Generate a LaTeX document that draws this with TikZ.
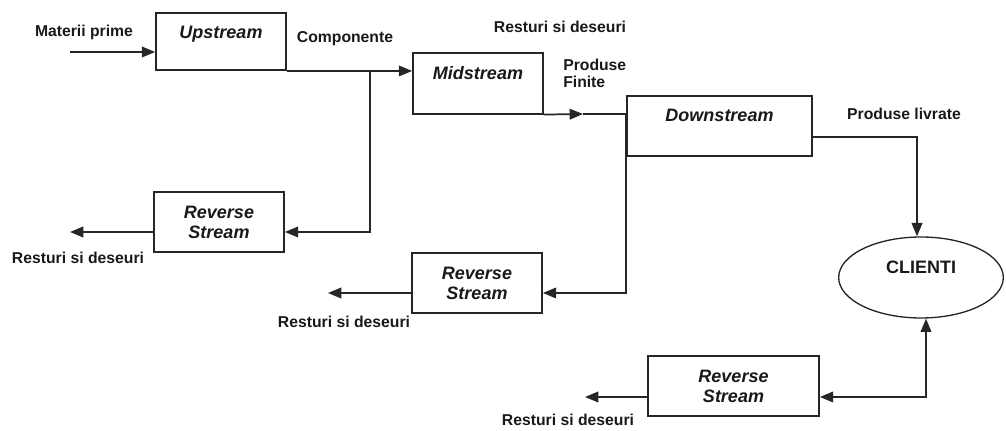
\documentclass[tikz,border=0pt]{standalone}
\usepackage{fontspec}
\setmainfont{Liberation Sans}
\usepackage{tikz}
\usetikzlibrary{arrows.meta,calc,shapes.geometric}

\begin{document}
\begin{tikzpicture}[
    x=0.75pt,
    y=0.75pt,
    >={Triangle[length=10pt, width=8pt]},
    inkline/.style={line width=1.3pt, black!85},
    flow/.style={->, line width=1.3pt, black!85},
    biflow/.style={<->, line width=1.3pt, black!85},
    lbl/.style={font=\fontsize{11.8}{13}\selectfont\bfseries, text=black!90,
                text height=1.5ex, text depth=.25ex, inner sep=0pt},
    streambox/.style={draw=black!85, line width=1.3pt, inner xsep=0pt, inner ysep=0pt,
                      font=\fontsize{13.5}{15}\selectfont\bfseries\itshape, text=black!90,
                      text height=19.3pt, text depth=#1},
    revbox/.style={draw=black!85, line width=1.3pt, align=center, inner sep=0pt,
                   font=\fontsize{13.5}{15}\selectfont\bfseries\itshape, text=black!90,
                   minimum width=97.5pt, minimum height=45pt},
    client/.style={ellipse, draw=black!85, line width=1pt, inner sep=0pt,
                   font=\fontsize{13.5}{15}\selectfont\bfseries, text=black!90,
                   text height=10pt, text depth=16pt,
                   minimum width=123.5pt, minimum height=60.75pt},
]
\useasboundingbox (0,0) rectangle (1006,431);

% main chain
\node[streambox=23.6pt, minimum width=97.5pt] (up)   at (221,389.5) {Upstream};
\node[streambox=26pt,   minimum width=97.5pt] (mid)  at (478,347.5) {Midstream};
\node[streambox=25.9pt, minimum width=138.75pt] (down) at (719.5,305) {Downstream};
\node[client] (cli) at (921,153.5) {CLIENTI};

% reverse streams
\node[revbox] (rev1) at (219,209) {Reverse\\Stream};
\node[revbox] (rev2) at (477,148) {Reverse\\Stream};
\node[revbox, minimum width=128.25pt] (rev3) at (733.5,45) {Reverse\\Stream};

% labels
\node[lbl] (matp)  at (84,399)  {Materii prime};
\node[lbl] (comp)  at (345,393) {Componente};
\node[lbl] (rsd0)  at (560,403) {Resturi si deseuri};
\node[lbl, align=left, anchor=west, font=\fontsize{11.8}{12.8}\selectfont\bfseries,
      text height=, text depth=] (prodf) at (563,357.5) {Produse\\Finite};
\node[lbl] (prodl) at (904,316) {Produse livrate};
\node[lbl] (rsd1)  at (78,172)  {Resturi si deseuri};
\node[lbl] (rsd2)  at (344,108) {Resturi si deseuri};
\node[lbl] (rsd3)  at (568,10)  {Resturi si deseuri};

% junctions and free ends
\coordinate (mp) at (70,379);
\coordinate (j1) at (370,360);
\coordinate (fa) at (583,317);
\coordinate (w1) at (70,199);
\coordinate (w2) at (328,138);
\coordinate (w3) at (585,34);

% connectors
\draw[flow] (mp) -- (mp -| up.west);
\draw[flow] (up.south east) -- (up.south east -| mid.west);
\draw[flow] (j1) |- ($(rev1.east)+(0,-10)$);
\draw[flow] ($(rev1.west)+(0,-10)$) -- (w1);
\draw[flow] (mid.south east) -- (fa);
\draw[inkline] (fa) -- (fa -| down.west);
\draw[flow] (fa -| down.west) |- ($(rev2.east)+(0,-10)$);
\draw[flow] ($(rev2.west)+(0,-10)$) -- (w2);
\draw[flow] ($(down.east)+(0,-11)$) -| ($(cli.north)+(-4,0)$);
\draw[biflow] ($(rev3.east)+(0,-11)$) -| ($(cli.south)+(5,0)$);
\draw[flow] ($(rev3.west)+(0,-11)$) -- (w3);
\end{tikzpicture}
\end{document}
